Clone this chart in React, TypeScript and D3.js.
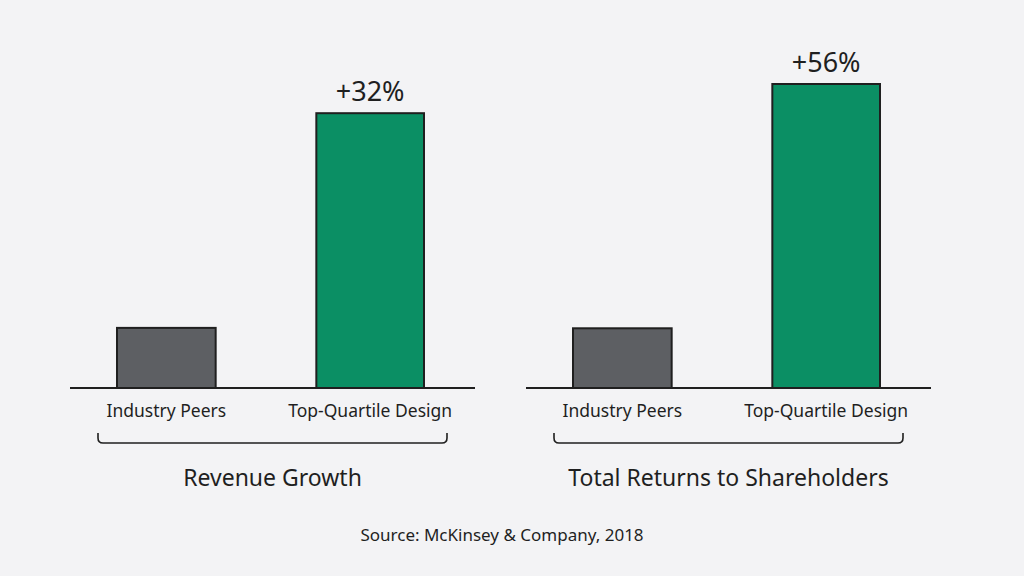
import { useMemo } from "react";
import * as d3 from "d3";

// ---------------------------------------------------------------------------
// Data
// ---------------------------------------------------------------------------

const PANELS = ["Revenue Growth", "Total Returns to Shareholders"];
const CATEGORIES = ["Industry Peers", "Top-Quartile Design"];
const REVENUE_VALUES = [7, 32];
const TSR_VALUES = [11, 56];
const PANEL_MAX = [35.4, 56]; // each panel has its own value axis
const SOURCE = "Source: McKinsey & Company, 2018";

// ---------------------------------------------------------------------------
// Palette / layout
// ---------------------------------------------------------------------------

const BG = "#f3f3f5";
const INK = "#1f1f1f";
const BAR_FILL: Record<string, string> = {
  "Industry Peers": "#5d5f63",
  "Top-Quartile Design": "#0b8f64",
};
const FONT = "'Noto Sans', 'DejaVu Sans', sans-serif";

const W = 1024;
const H = 576;
const BASE_Y = 388;
const TOP_Y = 84;
const PANEL_X = [117, 573]; // first bar left edge per panel
const PANEL_SPAN = 305; // left edge of first bar to right edge of second

// highlighted bar is drawn a little wider than the peer bar
const BAR_GROW: Record<string, [number, number]> = {
  "Industry Peers": [0, -3],
  "Top-Quartile Design": [-4, 2],
};

export default function App() {
  const values = [REVENUE_VALUES, TSR_VALUES];

  const panels = useMemo(
    () =>
      PANELS.map((title, i) => {
        const x = d3
          .scaleBand()
          .domain(CATEGORIES)
          .range([PANEL_X[i], PANEL_X[i] + PANEL_SPAN])
          .paddingInner(0.5)
          .paddingOuter(0);
        const y = d3
          .scaleLinear()
          .domain([0, PANEL_MAX[i]])
          .range([BASE_Y, TOP_Y]);
        return { title, x, y, vals: values[i] };
      }),
    [],
  );

  return (
    <svg
      width={W}
      height={H}
      style={{ position: "absolute", left: 0, top: 0, background: BG }}
      fontFamily={FONT}
    >
      <rect width={W} height={H} fill={BG} />
      {panels.map(({ title, x, y, vals }) => {
        const [r0, r1] = x.range();
        const bw = x.bandwidth();
        const bx0 = r0 - 19;
        const bx1 = r1 + 25;
        return (
          <g key={title}>
            {CATEGORIES.map((c, j) => {
              const v = vals[j];
              const [gl, gr] = BAR_GROW[c];
              const bx = (x(c) ?? 0) + gl;
              const w = bw - gl + gr;
              return (
                <g key={c}>
                  <rect
                    x={bx}
                    y={y(v)}
                    width={w}
                    height={BASE_Y - y(v)}
                    fill={BAR_FILL[c]}
                    stroke={INK}
                    strokeWidth={2}
                  />
                  {j === 1 && (
                    <text
                      x={bx + w / 2}
                      y={y(v) - 12}
                      textAnchor="middle"
                      fontSize={27}
                      fill={INK}
                    >
                      +{v}%
                    </text>
                  )}
                  <text
                    x={bx + w / 2}
                    y={BASE_Y + 29}
                    textAnchor="middle"
                    fontSize={17.5}
                    fill={INK}
                  >
                    {c}
                  </text>
                </g>
              );
            })}

            {/* baseline */}
            <line
              x1={r0 - 47}
              x2={r1 + 53}
              y1={BASE_Y}
              y2={BASE_Y}
              stroke={INK}
              strokeWidth={2}
            />

            {/* bracket under category labels */}
            <path
              d={`M${bx0},433 L${bx0},438 Q${bx0},443 ${bx0 + 5},443 L${bx1 - 5},443 Q${bx1},443 ${bx1},438 L${bx1},433`}
              fill="none"
              stroke={INK}
              strokeWidth={1.6}
            />

            <text
              x={(bx0 + bx1) / 2}
              y={486}
              textAnchor="middle"
              fontSize={23}
              fill={INK}
            >
              {title}
            </text>
          </g>
        );
      })}

      <text x={502} y={541} textAnchor="middle" fontSize={17} fill={INK}>
        {SOURCE}
      </text>
    </svg>
  );
}
